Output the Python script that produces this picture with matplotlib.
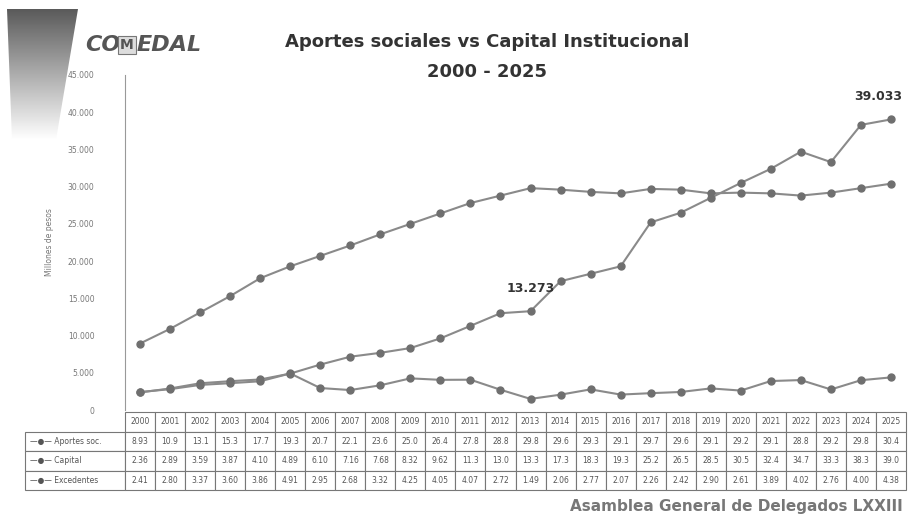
import numpy as np
import matplotlib
matplotlib.use("Agg")
import matplotlib.pyplot as plt
from matplotlib.patches import Polygon
from matplotlib.ticker import FuncFormatter

years = [str(y) for y in range(2000, 2026)]
aportes = [8930, 10900, 13100, 15300, 17700, 19300, 20700, 22100, 23600, 25000,
           26400, 27800, 28800, 29800, 29600, 29300, 29100, 29700, 29600, 29100,
           29200, 29100, 28800, 29200, 29800, 30400]
capital = [2360, 2890, 3590, 3870, 4100, 4890, 6100, 7160, 7680, 8320,
           9620, 11300, 13000, 13273, 17300, 18300, 19300, 25200, 26500, 28500,
           30500, 32400, 34700, 33300, 38300, 39033]
excedentes = [2410, 2800, 3370, 3600, 3860, 4910, 2950, 2680, 3320, 4250,
              4050, 4070, 2720, 1490, 2060, 2770, 2070, 2260, 2420, 2900,
              2610, 3890, 4020, 2760, 4000, 4380]
series_names = ["Aportes soc.", "Capital", "Excedentes"]
highlight = [(13, "13.273"), (25, "39.033")]

W, H = 912, 516
fig = plt.figure(figsize=(W / 100, H / 100), dpi=100)
fig.patch.set_facecolor("white")

# gray wedge top-left + logo
bg = fig.add_axes([0, 0, 1, 1], zorder=0)
bg.set_xlim(0, W)
bg.set_ylim(H, 0)
bg.axis("off")
grad = np.linspace(0.35, 1.0, 200).reshape(-1, 1)
img = bg.imshow(grad, cmap="gray", vmin=0, vmax=1, extent=[5, 80, 140, 8],
                aspect="auto", zorder=0)
wedge = Polygon([(7, 9), (78, 9), (56, 140), (12, 140)], closed=True,
                transform=bg.transData, facecolor="none", edgecolor="none")
bg.add_patch(wedge)
img.set_clip_path(wedge)

bg.text(85, 45, "CO", fontsize=16, fontweight="bold", style="italic",
        color="#555555", va="center", ha="left")
bg.text(127, 45, "M", fontsize=10, fontweight="bold", color="#555555",
        va="center", ha="center",
        bbox=dict(boxstyle="square,pad=0.15", fc="#dddddd", ec="#777777", lw=0.8))
bg.text(137, 45, "EDAL", fontsize=16, fontweight="bold", style="italic",
        color="#555555", va="center", ha="left")

fig.text(487 / W, 1 - 42 / H, "Aportes sociales vs Capital Institucional",
         ha="center", va="center", fontsize=13, fontweight="bold", color="#333333")
fig.text(487 / W, 1 - 72 / H, "2000 - 2025", ha="center", va="center",
         fontsize=13, fontweight="bold", color="#333333")
fig.text(903 / W, 1 - 506 / H, "Asamblea General de Delegados LXXIII",
         ha="right", va="center", fontsize=11, fontweight="bold", color="#777777")

ax = fig.add_axes([125 / W, 1 - 410 / H, 781 / W, 335 / H], zorder=2)
ax.patch.set_alpha(0)
x = np.arange(len(years))
for vals in (aportes, capital, excedentes):
    ax.plot(x, vals, color="#8a8a8a", lw=1.5, marker="o", ms=5,
            markerfacecolor="#6f6f6f", markeredgecolor="#6f6f6f")

for i, lab in highlight:
    last = i == len(years) - 1
    ax.annotate(lab, (i, capital[i]), xytext=(8 if last else 0, 12),
                textcoords="offset points", ha="right" if last else "center",
                va="bottom", fontsize=9, fontweight="bold", color="#333333")

ax.set_xlim(-0.5, len(years) - 0.5)
ax.set_ylim(0, 45000)
ax.set_yticks(np.arange(0, 45001, 5000))
ax.yaxis.set_major_formatter(FuncFormatter(
    lambda v, p: "0" if v == 0 else f"{int(v):,}".replace(",", ".")))
ax.tick_params(axis="y", length=0, labelsize=5.5, labelcolor="#777777", pad=22)
ax.set_xticks([])
for s in ("top", "right", "bottom"):
    ax.spines[s].set_visible(False)
ax.spines["left"].set_color("#999999")
ax.set_ylabel("Millones de pesos", fontsize=5.5, color="#777777", labelpad=10)


def fmt(v):
    v = v / 1000
    return f"{v:.2f}" if v < 10 else f"{v:.1f}"


# data table
cell_text = [[""] + years]
for name, vals in zip(series_names, (aportes, capital, excedentes)):
    cell_text.append(["\u2014\u25cf\u2014 " + name] + [fmt(v) for v in vals])
lw_col = 100 / 781
col_w = [lw_col] + [1 / len(years)] * len(years)
tab = ax.table(cellText=cell_text, colWidths=col_w, cellLoc="center",
               bbox=[-lw_col, -80 / 335, 1 + lw_col, 78 / 335])
tab.auto_set_font_size(False)
tab.set_fontsize(5.5)
for (r, c), cell in tab.get_celld().items():
    cell.set_edgecolor("#777777")
    cell.set_linewidth(0.8)
    cell.get_text().set_color("#555555")
    if r == 0 and c == 0:
        cell.visible_edges = ""
    if c == 0 and r > 0:
        cell.get_text().set_ha("left")
        cell.PAD = 0.05

fig.savefig("out.png", dpi=100)
